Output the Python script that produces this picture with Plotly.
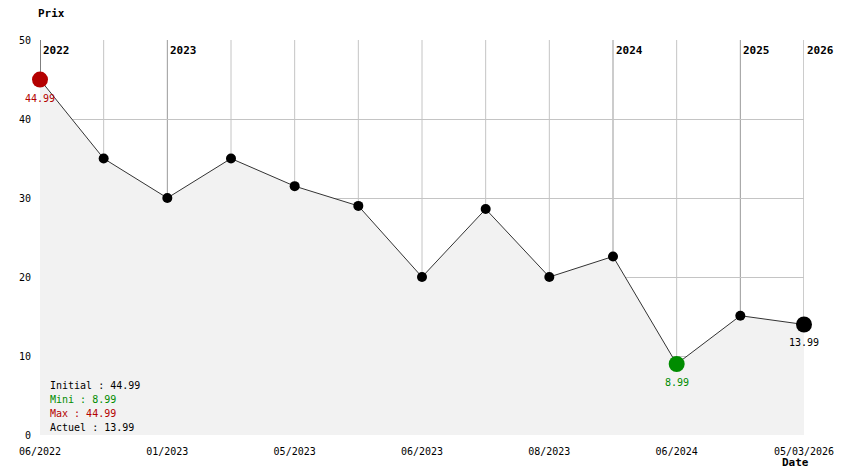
import plotly.graph_objects as go

prices = [44.99, 35, 30, 35, 31.5, 29, 20, 28.6, 20, 22.6, 8.99, 15.1, 13.99]
tick_labels = ["06/2022", "01/2023", "05/2023", "06/2023", "08/2023", "06/2024", "05/03/2026"]
tick_idx = [0, 2, 4, 6, 8, 10, 12]
year_labels = ["2022", "2023", "2024", "2025", "2026"]
year_idx = [0, 2, 9, 11, 12]
initial, mini, maxi, actuel = 44.99, 8.99, 44.99, 13.99

RED = "#b40000"
GREEN = "#008c00"
MONO = "DejaVu Sans Mono"

x = list(range(len(prices)))
i_max = prices.index(max(prices))
i_min = prices.index(min(prices))
i_last = len(prices) - 1

fig = go.Figure()
fig.add_trace(go.Scatter(
    x=x, y=prices, mode="lines+markers",
    line=dict(color="#333333", width=1),
    marker=dict(color="black", size=10),
    fill="tozeroy", fillcolor="#f2f2f2",
    cliponaxis=False, hoverinfo="skip", showlegend=False))

special = [(i_max, RED), (i_min, GREEN), (i_last, "black")]
fig.add_trace(go.Scatter(
    x=[s[0] for s in special], y=[prices[s[0]] for s in special],
    mode="markers",
    marker=dict(color=[s[1] for s in special], size=16),
    cliponaxis=False, hoverinfo="skip", showlegend=False))

shapes = []
for i in x:
    if i not in year_idx:
        shapes.append(dict(type="line", xref="x", yref="y", x0=i, x1=i, y0=0, y1=50,
                           line=dict(color="#c4c4c4", width=1), layer="below"))
for k, i in enumerate(year_idx):
    shapes.append(dict(type="line", xref="x", yref="y", x0=i, x1=i, y0=0, y1=50,
                       line=dict(color="black" if k == 0 else "#999999", width=1),
                       layer="below"))

annotations = []
for i, c in special:
    annotations.append(dict(x=i, y=prices[i], xref="x", yref="y", text=f"{prices[i]:.2f}",
                            showarrow=False, xanchor="center", yanchor="top", yshift=-11,
                            font=dict(family=MONO, size=10, color=c)))
for lbl, i in zip(year_labels, year_idx):
    annotations.append(dict(x=i, y=50, xref="x", yref="y", text=f"<b>{lbl}</b>",
                            showarrow=False, xanchor="left", yanchor="top", xshift=1, yshift=-2,
                            font=dict(family=MONO, size=11, color="black")))
annotations.append(dict(x=0, y=1, xref="paper", yref="paper", text="<b>Prix</b>",
                        showarrow=False, xanchor="left", yanchor="middle", yshift=27, xshift=-3,
                        borderpad=0, font=dict(family=MONO, size=11, color="black")))
annotations.append(dict(x=1, y=0, xref="paper", yref="paper", text="<b>Date</b>",
                        showarrow=False, xanchor="right", yanchor="top", xshift=6, yshift=-20,
                        borderpad=0, font=dict(family=MONO, size=11, color="black")))
info = [(f"Initial : {initial:.2f}", "black"), (f"Mini : {mini:.2f}", GREEN),
        (f"Max : {maxi:.2f}", RED), (f"Actuel : {actuel:.2f}", "black")]
for k, (t, c) in enumerate(info):
    annotations.append(dict(x=0, y=0, xref="paper", yref="paper", text=t, showarrow=False,
                            xanchor="left", yanchor="middle", xshift=8, yshift=50 - 14.3 * k,
                            font=dict(family=MONO, size=10, color=c)))

# page body has an 8px margin, so the figure is sized to fill the rest of the window
fig.update_layout(
    width=836, height=466,
    margin=dict(l=32, r=40, t=32, b=39),
    paper_bgcolor="white", plot_bgcolor="white",
    shapes=shapes, annotations=annotations,
    font=dict(family=MONO, size=10, color="black"),
    xaxis=dict(range=[0, 12], tickvals=tick_idx, ticktext=tick_labels,
               showgrid=False, zeroline=False, automargin=False,
               showline=False, ticks="", ticklabelstandoff=9,
               tickfont=dict(family=MONO, size=10, color="black")),
    yaxis=dict(range=[0, 50], tickvals=[0, 10, 20, 30, 40, 50],
               showgrid=True, gridcolor="#c4c4c4", gridwidth=1, zeroline=False,
               showline=False, ticks="", ticklabelstandoff=8, automargin=False,
               tickfont=dict(family=MONO, size=10, color="black")),
)

fig.write_html("out.html")
